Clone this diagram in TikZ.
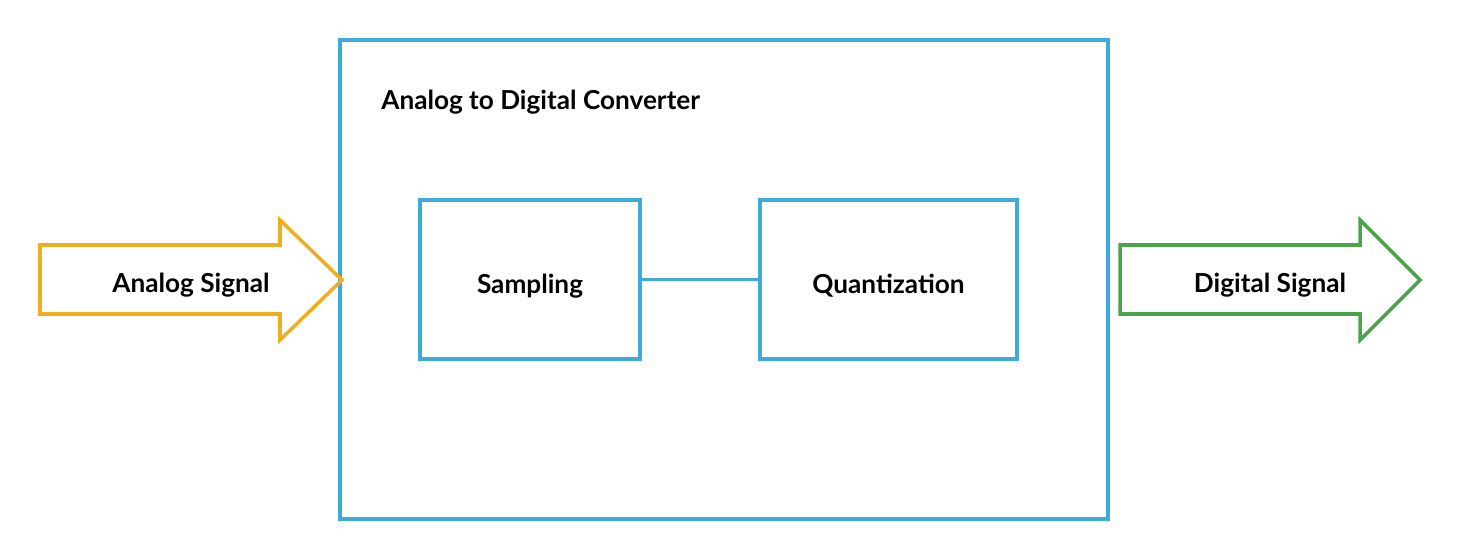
\documentclass[tikz,border=0pt]{standalone}
\usepackage{fontspec}
\setmainfont{Lato}
\usetikzlibrary{positioning,calc}
\definecolor{adcblue}{HTML}{3DAAD8}
\definecolor{inyellow}{HTML}{F0AE1F}
\definecolor{outgreen}{HTML}{4AA54A}
\tikzset{
  blk/.style={draw=adcblue, line width=2pt, rectangle, inner sep=0pt},
  lbl/.style={font=\fontsize{14.9}{17}\selectfont\bfseries, inner sep=0pt}
}

\begin{document}
\begin{tikzpicture}[x=0.02cm, y=-0.02cm]
        \useasboundingbox (0,0) rectangle (1460,560);
        %nodes
        \node[blk, minimum width=15.36cm, minimum height=9.58cm] (adc) at (724, 279.5) {};
        \node[lbl, anchor=base west] (title) at (381, 110) {Analog to Digital Converter};
        \node[blk, minimum width=4.4cm, minimum height=3.18cm, lbl, text height=15.5pt, text depth=0pt] (samp) at (530, 279.5) {Sampling};
        \node[blk, minimum width=5.14cm, minimum height=3.18cm, lbl, text height=15.5pt, text depth=0pt] (quant) at (888.5, 279.5) {Quantization};
        \coordinate (intip) at (342, 280);
        \coordinate (outtip) at (1420, 280);
        \node[lbl, anchor=base] (insig) at (191, 293) {Analog Signal};
        \node[lbl, anchor=base] (outsig) at (1270, 293) {Digital Signal};
        %arrows
        \draw[inyellow, line width=2pt, line join=miter] (40, 245) -- (280, 245) -- (280, 220) -- (intip)
              -- (280, 340) -- (280, 314) -- (40, 314) -- cycle;
        \draw[outgreen, line width=2pt, line join=miter] (1120, 245) -- (1360, 245) -- (1360, 220) -- (outtip)
              -- (1360, 340) -- (1360, 314) -- (1120, 314) -- cycle;
        %edges
        \draw[adcblue, line width=2pt] (samp) -- (quant);
      \end{tikzpicture}
\end{document}
